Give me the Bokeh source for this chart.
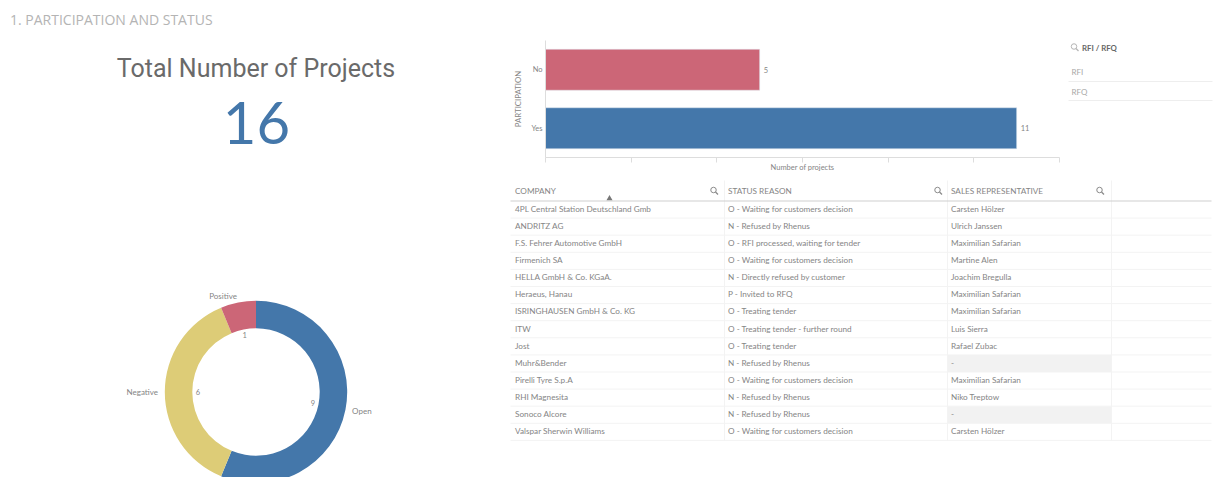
from math import pi, sin, cos

from bokeh.core.properties import value
from bokeh.embed import file_html
from bokeh.layouts import column, row
from bokeh.models import ColumnDataSource, FactorRange, FixedTicker, Range1d
from bokeh.plotting import figure
from bokeh.resources import INLINE

FONT = "Lato"
BLUE, RED, YELLOW = "#4477aa", "#cc6677", "#ddcc77"
INK, SOFT, RULE = "#858585", "#a8a8a8", "#eeeeee"

# Dashboard figures
section_title = "1. PARTICIPATION AND STATUS"
kpi_title = "Total Number of Projects"
kpi_value = 16

status_labels = ["Open", "Negative", "Positive"]
status_counts = [9, 6, 1]
status_colors = [BLUE, YELLOW, RED]

participation = ["Yes", "No"]
project_counts = [11, 5]
participation_colors = [BLUE, RED]
count_ticks = [0, 2, 4, 6, 8, 10, 12]

slicer_title = "RFI / RFQ"
slicer_items = ["RFI", "RFQ"]

table_headers = ["COMPANY", "STATUS REASON", "SALES REPRESENTATIVE"]
companies = [
    "4PL Central Station Deutschland Gmb", "ANDRITZ AG", "F.S. Fehrer Automotive GmbH",
    "Firmenich SA", "HELLA GmbH & Co. KGaA.", "Heraeus, Hanau",
    "ISRINGHAUSEN GmbH & Co. KG", "ITW", "Jost", "Muhr&Bender",
    "Pirelli Tyre S.p.A", "RHI Magnesita", "Sonoco Alcore", "Valspar Sherwin Williams",
]
status_reasons = [
    "O - Waiting for customers decision", "N - Refused by Rhenus",
    "O - RFI processed, waiting for tender", "O - Waiting for customers decision",
    "N - Directly refused by customer", "P - Invited to RFQ", "O - Treating tender",
    "O - Treating tender - further round", "O - Treating tender", "N - Refused by Rhenus",
    "O - Waiting for customers decision", "N - Refused by Rhenus", "N - Refused by Rhenus",
    "O - Waiting for customers decision",
]
representatives = [
    "Carsten Hölzer", "Ulrich Janssen", "Maximilian Safarian", "Martine Alen",
    "Joachim Bregulla", "Maximilian Safarian", "Maximilian Safarian", "Luis Sierra",
    "Rafael Zubac", "-", "Maximilian Safarian", "Niko Treptow", "-", "Carsten Hölzer",
]


def blank(fig):
    fig.axis.visible = False
    fig.grid.visible = False
    fig.outline_line_color = None
    fig.background_fill_color = "white"
    fig.border_fill_color = "white"
    fig.min_border = 0
    return fig


def label(fig, x, y, text, size, color=INK, align="left", style="normal", font=FONT):
    fig.text([x], [y], text=[text], text_font=value(font), text_font_size=size,
             text_color=color, text_align=align, text_baseline="middle",
             text_font_style=style)


def search_icon(fig, x, y, color="#8a8a8a"):
    fig.scatter([x], [y], marker="circle", size=5.5, fill_color=None,
                line_color=color, line_width=1)
    fig.segment([x + 2], [y + 2], [x + 4.5], [y + 4.5], line_color=color, line_width=1.2)


# Left column: heading, headline number and status donut (y measured upward)
H = 477
left = blank(figure(width=505, height=H, x_range=Range1d(0, 505), y_range=Range1d(0, H),
                    output_backend="svg", toolbar_location=None))
label(left, 9.5, H - 18.5, section_title, "14px", "#b4b4b4", font="Open Sans")
label(left, 255.5, H - 67.5, kpi_title, "25px", "#6a6a6a", "center", font="Roboto")
label(left, 256, H - 122, str(kpi_value), "58px", BLUE, "center")

cx, cy = 255.5, H - 391.5
total = sum(status_counts)
angle = pi / 2
starts, ends, mids = [], [], []
for count in status_counts:
    sweep = 2 * pi * count / total
    starts.append(angle - sweep)
    ends.append(angle)
    mids.append(angle - sweep / 2)
    angle -= sweep

donut = ColumnDataSource(dict(start=starts, end=ends, color=status_colors))
left.annular_wedge(x=cx, y=cy, inner_radius=63.7, outer_radius=91.2, start_angle="start",
                   end_angle="end", fill_color="color", line_color=None, source=donut)
for name, count, mid in zip(status_labels, status_counts, mids):
    label(left, cx + 58 * cos(mid), cy + 58 * sin(mid), str(count), "7.5px", INK, "center")
    side = "left" if cos(mid) > 0 else "right"
    label(left, cx + 98 * cos(mid), cy + 98 * sin(mid), name, "8px", INK, side)

# Participation bars
bars = figure(width=555, height=178, x_range=Range1d(0, 12),
              y_range=FactorRange(factors=participation, range_padding=0, factor_padding=0),
              output_backend="svg", toolbar_location=None,
              min_border_left=40, min_border_right=1, min_border_top=40, min_border_bottom=21)
bars.background_fill_color = "white"
bars.outline_line_color = None
bars.grid.visible = False
bars.hbar(y=participation, right=project_counts, left=0, height=0.7,
          fill_color=participation_colors, line_color="#dfe6ee", line_width=0.5)
bars.text(x=project_counts, y=participation, text=[str(v) for v in project_counts],
          x_offset=4, text_font=value(FONT), text_font_size="7.5px", text_color=INK,
          text_baseline="middle")
bars.xaxis.ticker = FixedTicker(ticks=count_ticks)
bars.xaxis.major_label_overrides = {t: "" for t in count_ticks}
bars.xaxis.major_label_standoff = 0
bars.xaxis.major_tick_out = 5
bars.xaxis.major_tick_in = 0
bars.xaxis.minor_tick_line_color = None
bars.xaxis.axis_line_color = "#dddddd"
bars.xaxis.major_tick_line_color = "#dddddd"
bars.xaxis.axis_label = "Number of projects"
bars.xaxis.axis_label_text_font = FONT
bars.xaxis.axis_label_text_font_size = "7.5px"
bars.xaxis.axis_label_text_font_style = "normal"
bars.xaxis.axis_label_text_color = INK
bars.xaxis.axis_label_standoff = 0
bars.yaxis.axis_label = "PARTICIPATION"
bars.yaxis.axis_label_text_font = FONT
bars.yaxis.axis_label_text_font_size = "7.8px"
bars.yaxis.axis_label_text_font_style = "normal"
bars.yaxis.axis_label_text_color = INK
bars.yaxis.axis_label_standoff = 5
bars.yaxis.major_label_text_font = FONT
bars.yaxis.major_label_text_font_size = "7.5px"
bars.yaxis.major_label_text_color = INK
bars.yaxis.major_label_standoff = 3
bars.yaxis.major_tick_out = 0
bars.yaxis.major_tick_in = 0
bars.yaxis.major_tick_line_color = None
bars.yaxis.axis_line_color = "#dddddd"

# Filter pane; the row shares its plot area band with the bars (y 40 to 157 on the page)
slicer = blank(figure(width=158, height=178, x_range=Range1d(1060, 1218), y_range=Range1d(157, 40),
                      output_backend="svg", toolbar_location=None))
slicer.min_border_top = 40
slicer.min_border_bottom = 21
search_icon(slicer, 1073.5, 46, "#b5b5b5")
label(slicer, 1081.5, 47, slicer_title, "7.8px", "#666666", style="bold")
for item, y, rule_y in zip(slicer_items, [71, 91], [81, 100]):
    label(slicer, 1071, y, item, "8px", SOFT)
    slicer.segment([1068], [rule_y], [1212], [rule_y], line_color=RULE, line_width=1)

# Detail table
table = blank(figure(width=713, height=299, x_range=Range1d(505, 1218), y_range=Range1d(477, 178),
                     output_backend="svg", toolbar_location=None))
row_top, row_step = 200.5, 17.1
column_text = [514.5, 727.5, 950.5]
column_rules = [724, 947, 1111]
icon_x = [713, 937, 1099]
n_rows = len(companies)
table_bottom = row_top + row_step * n_rows

for i, rep in enumerate(representatives):
    if rep == "-":
        table.quad(left=947, right=1111, top=row_top + i * row_step,
                   bottom=row_top + (i + 1) * row_step, fill_color="#f2f2f2", line_color=None)

for i in range(1, n_rows + 1):
    y = row_top + i * row_step
    table.segment([510], [y], [1211], [y], line_color="#f3f3f3", line_width=1)
for x in column_rules:
    table.segment([x], [180], [x], [table_bottom], line_color="#f3f3f3", line_width=1)
table.segment([510], [row_top], [1211], [row_top], line_color="#cfcfcf", line_width=1)

for x, name, ix in zip(column_text, table_headers, icon_x):
    label(table, x, 190, name, "8.2px", INK)
    search_icon(table, ix, 189.5)
table.scatter([609], [198], marker="triangle", size=6, fill_color="#777777", line_color=None)

for i in range(n_rows):
    y = row_top + (i + 0.5) * row_step - 0.7
    for x, cell in zip(column_text, (companies[i], status_reasons[i], representatives[i])):
        label(table, x, y, cell, "8.2px", INK)

page = row(left, column(row(bars, slicer, spacing=0), table, spacing=0), spacing=0)
open("out.html", "w").write(file_html(page, INLINE))
